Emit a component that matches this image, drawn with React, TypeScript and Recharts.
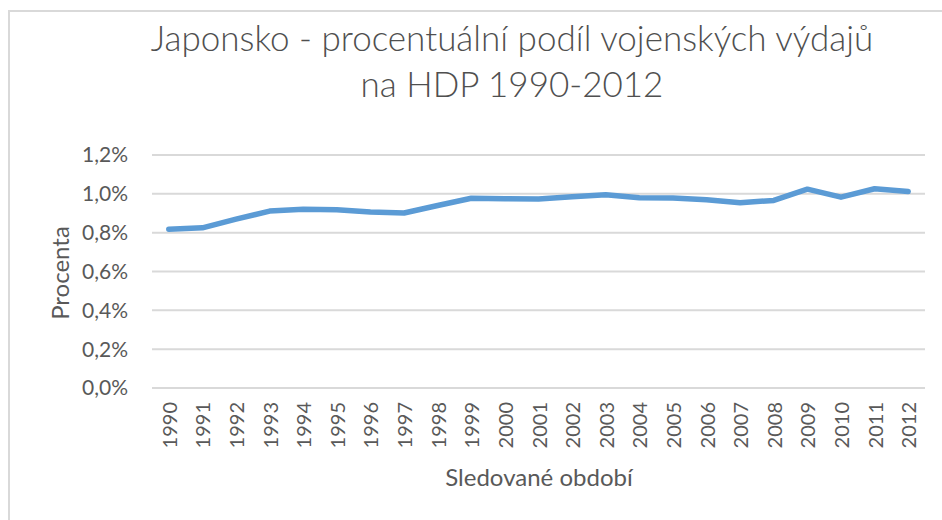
import { LineChart, Line, XAxis, YAxis, CartesianGrid } from "recharts";

const years = [
  "1990", "1991", "1992", "1993", "1994", "1995", "1996", "1997", "1998", "1999", "2000", "2001",
  "2002", "2003", "2004", "2005", "2006", "2007", "2008", "2009", "2010", "2011", "2012",
];
const podil = [
  0.818, 0.825, 0.87, 0.911, 0.92, 0.918, 0.906, 0.901, 0.94, 0.977, 0.975, 0.973,
  0.985, 0.995, 0.98, 0.978, 0.969, 0.954, 0.966, 1.024, 0.983, 1.026, 1.012,
];
const yTicks = [0, 0.2, 0.4, 0.6, 0.8, 1.0, 1.2];

const data = years.map((rok, i) => ({ rok, podil: podil[i] }));

const FONT = "Lato, 'Open Sans', sans-serif";
const TEXT = "#595959";

const fmtPct = (v: number) => v.toFixed(1).replace(".", ",") + "%";

const YearTick = (props: any) => {
  const { x, y, payload } = props;
  return (
    <text
      x={x}
      y={y}
      transform={`rotate(-90, ${x}, ${y})`}
      textAnchor="end"
      dominantBaseline="central"
      fill={TEXT}
      fontSize={20}
      fontFamily={FONT}
    >
      {payload.value}
    </text>
  );
};

export default function App() {
  return (
    <div
      style={{
        position: "fixed",
        left: 0,
        top: 0,
        width: 942,
        height: 520,
        background: "#fff",
        overflow: "hidden",
        fontFamily: FONT,
      }}
    >
      <div
        style={{
          position: "absolute",
          left: 8,
          top: 10,
          width: 960,
          height: 540,
          borderTop: "2px solid #d9d9d9",
          borderLeft: "2px solid #d9d9d9",
          boxSizing: "border-box",
        }}
      />
      <div
        style={{
          position: "absolute",
          left: 0,
          top: 14,
          width: 1024,
          textAlign: "center",
          color: "#4f4f4f",
          fontSize: 35,
          fontWeight: 300,
          lineHeight: "46px",
        }}
      >
        Japonsko - procentuální podíl vojenských výdajů
        <br />
        na HDP 1990-2012
      </div>
      <div style={{ position: "absolute", left: 0, top: 0 }}>
        <LineChart
          width={942}
          height={520}
          data={data}
          margin={{ top: 155, right: 17, bottom: 52, left: 92 }}
        >
          <CartesianGrid vertical={false} stroke="#d9d9d9" strokeWidth={2} />
          <XAxis
            dataKey="rok"
            axisLine={false}
            tickLine={false}
            tickSize={0}
            tickMargin={14}
            height={80}
            interval={0}
            padding={{ left: 16.8, right: 16.8 }}
            tick={<YearTick />}
          />
          <YAxis
            domain={[0, 1.2]}
            ticks={yTicks}
            width={60}
            axisLine={false}
            tickLine={false}
            tickSize={0}
            tickMargin={24}
            tickFormatter={fmtPct}
            tick={{ fill: TEXT, fontSize: 21, fontFamily: FONT }}
          />
          <Line
            type="linear"
            dataKey="podil"
            stroke="#5b9bd5"
            strokeWidth={5.5}
            strokeLinecap="round"
            strokeLinejoin="round"
            dot={false}
            isAnimationActive={false}
          />
        </LineChart>
      </div>
      <div
        style={{
          position: "absolute",
          left: 0,
          top: 462,
          width: 1078,
          textAlign: "center",
          color: TEXT,
          fontSize: 24,
        }}
      >
        Sledované období
      </div>
      <div
        style={{
          position: "absolute",
          left: 59,
          top: 273,
          transform: "translate(-50%, -50%) rotate(-90deg)",
          color: TEXT,
          fontSize: 24,
          whiteSpace: "nowrap",
        }}
      >
        Procenta
      </div>
    </div>
  );
}
